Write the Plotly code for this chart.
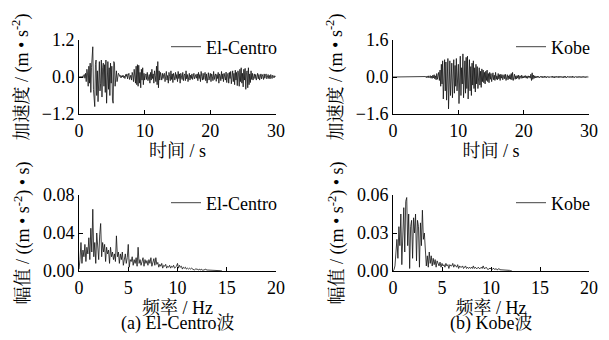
import plotly.graph_objects as go

# ---------------- data ----------------
dt_acc = 0.1   # s
df_spec = 0.1  # Hz

elcentro_acc = [
    0, 0, 0, 0, 0.01, 0.03, -0.02, 0.05, 0.08, -0.04,
    0.12, -0.15, 0.25, 0.1, -0.3, 0.35, -0.2, 0.45, -0.5, 0.3,
    0.6, 0.98, -0.4, -0.7, -0.96, 0.4, 0.55, -0.6, 0.2, -0.8,
    0.35, 0.5, -0.45, -0.2, 0.55, -0.65, 0.3, 0.45, -0.3, 0.4,
    -0.5, 0.55, -0.85, 0.2, 0.5, -0.4, 0.3, -0.6, 0.45, -0.2,
    0.35, -0.75, -0.85, 0.5, 0.45, -0.3, 0.1, 0.2, -0.15, 0.05,
    0.12, 0.08, 0.02, 0.05, -0.03, 0.04, 0.0, 0.06, -0.02, 0.03,
    -0.05, 0.08, 0.02, 0.1, -0.06, 0.05, 0.12, -0.08, 0.02, 0.06,
    -0.1, 0.15, 0.05, -0.15, 0.25, 0.1, -0.2, 0.35, -0.25, 0.4,
    -0.3, 0.38, -0.2, 0.15, -0.35, 0.25, -0.1, 0.3, -0.25, 0.12,
    -0.1, 0.05, 0.1, -0.08, 0.15, -0.12, 0.05, 0.08, -0.2, 0.15,
    -0.1, 0.25, -0.05, 0.1, -0.2, 0.2, 0.05, -0.15, 0.35, -0.25,
    0.5, -0.35, 0.2, -0.1, 0.15, 0.05, -0.1, 0.12, -0.05, 0.08,
    0.12, -0.15, 0.08, 0.18, -0.1, 0.05, -0.2, 0.15, 0.02, -0.12,
    0.2, -0.08, 0.1, -0.18, 0.12, 0.05, -0.1, 0.15, -0.05, 0.08,
    -0.15, 0.18, -0.05, 0.1, -0.2, 0.12, 0.03, -0.08, 0.15, -0.12,
    0.05, 0.1, -0.12, 0.2, -0.06, 0.08, -0.15, 0.04, 0.12, -0.1,
    0.06, -0.05, 0.1, -0.08, 0.04, 0.12, -0.06, 0.02, 0.08, -0.04,
    0.1, -0.12, 0.15, -0.05, 0.08, -0.15, 0.18, 0.02, -0.1, 0.12,
    -0.08, 0.05, 0.15, -0.12, 0.1, -0.2, 0.08, 0.14, -0.1, 0.05,
    0.12, -0.15, 0.1, 0.02, -0.12, 0.18, -0.08, 0.05, 0.1, -0.14,
    0.08, -0.05, 0.15, -0.2, 0.1, 0.05, -0.12, 0.18, -0.06, 0.1,
    -0.15, 0.12, 0.04, -0.1, 0.16, -0.18, 0.08, 0.12, -0.2, 0.15,
    -0.05, 0.18, -0.22, 0.1, 0.2, -0.15, 0.12, -0.25, 0.22, -0.1,
    0.15, -0.28, 0.2, 0.1, -0.3, 0.25, -0.15, 0.3, -0.2, 0.12,
    -0.32, 0.25, -0.1, 0.28, -0.4, 0.15, 0.2, -0.35, 0.3, -0.25,
    0.1, -0.18, 0.2, -0.08, 0.12, -0.1, 0.06, 0.1, -0.05, 0.08,
    -0.1, 0.05, 0.12, -0.06, 0.08, -0.1, 0.04, 0.1, -0.06, 0.08,
    0.02, -0.08, 0.1, -0.04, 0.06, 0.1, -0.06, 0.02, 0.08, -0.05,
    0.05, -0.06, 0.08, 0.02, -0.05, 0.06, 0.01, -0.03, 0.04, 0.0,
]

kobe_acc = [
    0, 0, 0, 0, 0, 0, 0, 0, 0, 0,
    0, 0, 0, 0, 0, 0, 0, 0, 0, 0,
    0, 0, 0, 0, 0, 0, 0, 0, 0, 0,
    0, 0, 0, 0, 0, 0, 0, 0, 0, 0,
    0, 0, 0, 0, 0, 0, 0, 0, 0, 0,
    0.02, -0.03, 0.04, -0.02, 0.05, -0.04, 0.03, 0.06, -0.05, 0.04,
    -0.06, 0.08, -0.04, 0.1, -0.08, 0.05, -0.12, 0.15, -0.1, 0.08,
    0.2, -0.15, 0.3, -0.4, 0.55, -0.3, 0.7, -0.95, 0.4, 0.75,
    -0.6, 0.65, -1.0, 0.3, 0.8, -1.38, -0.5, 0.7, -0.8, 0.45,
    0.6, -0.9, 0.35, 0.75, -0.7, 0.5, -0.4, 0.8, -0.6, 0.3,
    0.55, -1.15, 0.2, 0.9, -0.8, 0.4, -0.3, 1.0, -0.9, 0.6,
    0.7, -0.7, 0.85, -0.5, 0.9, -0.95, 0.3, 0.75, -0.6, 0.45,
    -0.8, 0.6, -0.35, 0.7, -0.5, 0.4, -0.65, 0.55, -0.3, 0.45,
    -0.5, 0.3, 0.4, -0.35, 0.25, -0.45, 0.35, -0.2, 0.3, -0.25,
    0.2, -0.3, 0.25, -0.15, 0.3, -0.2, 0.15, -0.25, 0.2, -0.1,
    0.15, -0.2, 0.1, 0.18, -0.12, 0.08, -0.15, 0.2, -0.1, 0.05,
    -0.12, 0.15, -0.08, 0.1, -0.15, 0.12, -0.05, 0.1, -0.12, 0.08,
    0.1, -0.08, 0.12, -0.15, 0.06, 0.1, -0.12, 0.05, -0.08, 0.1,
    -0.1, 0.15, -0.12, 0.2, -0.15, 0.08, 0.12, -0.1, 0.05, -0.08,
    0.06, -0.05, 0.08, -0.1, 0.05, 0.04, -0.06, 0.08, -0.05, 0.03,
    -0.04, 0.05, -0.03, 0.06, -0.05, 0.04, -0.06, 0.05, -0.02, 0.04,
    -0.05, 0.12, -0.15, 0.18, -0.1, 0.08, -0.06, 0.05, -0.04, 0.03,
    -0.03, 0.04, -0.02, 0.03, -0.04, 0.02, 0.03, -0.02, 0.04, -0.03,
    0.02, -0.03, 0.04, -0.02, 0.03, -0.04, 0.02, 0.03, -0.02, 0.02,
    -0.03, 0.02, 0.03, -0.02, 0.04, -0.03, 0.02, -0.04, 0.03, -0.02,
    0.03, -0.02, 0.02, -0.03, 0.04, -0.02, 0.03, -0.02, 0.02, -0.03,
    0.02, -0.03, 0.04, -0.02, 0.03, -0.04, 0.02, 0.03, -0.02, 0.02,
    -0.02, 0.03, -0.02, 0.02, -0.03, 0.04, -0.02, 0.02, -0.03, 0.02,
    0.03, -0.02, 0.02, -0.03, 0.02, -0.02, 0.03, -0.02, 0.02, -0.03,
    0.02, -0.02, 0.03, -0.02, 0.02, -0.03, 0.02, -0.02, 0.02, 0.0,
]

elcentro_spec = [
    0.002, 0.012, 0.03, 0.008, 0.022, 0.015, 0.028, 0.01, 0.025, 0.018,
    0.035, 0.012, 0.045, 0.02, 0.065, 0.015, 0.03, 0.008, 0.04, 0.022,
    0.012, 0.038, 0.05, 0.015, 0.03, 0.02, 0.028, 0.01, 0.025, 0.018,
    0.022, 0.008, 0.025, 0.015, 0.02, 0.012, 0.018, 0.01, 0.037, 0.015,
    0.02, 0.008, 0.018, 0.012, 0.02, 0.006, 0.015, 0.018, 0.008, 0.014,
    0.028, 0.004, 0.012, 0.01, 0.015, 0.006, 0.012, 0.008, 0.014, 0.005,
    0.025, 0.008, 0.012, 0.006, 0.01, 0.014, 0.005, 0.012, 0.008, 0.011,
    0.006, 0.012, 0.008, 0.014, 0.005, 0.01, 0.013, 0.006, 0.014, 0.007,
    0.009, 0.004, 0.007, 0.005, 0.008, 0.003, 0.006, 0.005, 0.007, 0.003,
    0.005, 0.004, 0.006, 0.003, 0.005, 0.004, 0.006, 0.003, 0.004, 0.005,
    0.008, 0.003, 0.006, 0.004, 0.005, 0.002, 0.004, 0.003, 0.004, 0.002,
    0.003, 0.002, 0.003, 0.002, 0.003, 0.002, 0.002, 0.001, 0.002, 0.002,
    0.002, 0.001, 0.002, 0.001, 0.002, 0.001, 0.001, 0.001, 0.002, 0.001,
    0.001, 0.001, 0.001, 0.0005, 0.001, 0.0005, 0.001, 0.0005, 0.0005, 0.0005,
    0.0005, 0.0003, 0.0004, 0.0003, 0.0003, 0.0002,
]

kobe_spec = [
    0.0, 0.001, 0.004, 0.012, 0.025, 0.01, 0.035, 0.02, 0.045, 0.005,
    0.03, 0.05, 0.015, 0.055, 0.058, 0.02, 0.045, 0.002, 0.035, 0.04,
    0.01, 0.042, 0.03, 0.045, 0.008, 0.04, 0.035, 0.003, 0.038, 0.02,
    0.048, 0.025, 0.03, 0.01, 0.004, 0.012, 0.003, 0.015, 0.006, 0.012,
    0.004, 0.01, 0.005, 0.009, 0.003, 0.008, 0.006, 0.004, 0.007, 0.003,
    0.006, 0.004, 0.005, 0.003, 0.006, 0.004, 0.005, 0.002, 0.005, 0.004,
    0.004, 0.006, 0.003, 0.005, 0.004, 0.003, 0.005, 0.002, 0.004, 0.003,
    0.003, 0.004, 0.002, 0.003, 0.004, 0.002, 0.003, 0.002, 0.003, 0.002,
    0.003, 0.002, 0.004, 0.002, 0.003, 0.002, 0.002, 0.003, 0.002, 0.002,
    0.003, 0.002, 0.004, 0.002, 0.002, 0.003, 0.002, 0.001, 0.002, 0.002,
    0.002, 0.001, 0.002, 0.002, 0.001, 0.002, 0.001, 0.001, 0.002, 0.001,
    0.001, 0.001, 0.001, 0.0005, 0.001, 0.0005, 0.0005, 0.0005, 0.0005, 0.0005,
    0.0003, 0.0003,
]

acc_x_ticks = [0, 10, 20, 30]
spec_x_ticks = [0, 5, 10, 15, 20]
elcentro_acc_yticks = [-1.2, 0.0, 1.2]
kobe_acc_yticks = [-1.6, 0.0, 1.6]
elcentro_spec_yticks = [0.00, 0.04, 0.08]
kobe_spec_yticks = [0.00, 0.03, 0.06]

# ---------------- figure ----------------
# The page body has an 8 px default margin, so the figure is drawn 8 px in;
# size and positions are compensated for that offset.
OFF = 8
W, H = 609 - OFF, 340 - OFF
FONT = "Liberation Serif, 'Noto Serif CJK SC', 'Noto Sans CJK SC', serif"
FS = 18
LINE = dict(color="#111111", width=0.8)

t_el = [i * dt_acc for i in range(len(elcentro_acc))]
t_kb = [i * dt_acc for i in range(len(kobe_acc))]
f_el = [i * df_spec for i in range(len(elcentro_spec))]
f_kb = [i * df_spec for i in range(len(kobe_spec))]

fig = go.Figure()
fig.add_trace(go.Scatter(x=t_el, y=elcentro_acc, mode="lines", line=LINE,
                         name="El-Centro", xaxis="x", yaxis="y", legend="legend"))
fig.add_trace(go.Scatter(x=t_kb, y=kobe_acc, mode="lines", line=LINE,
                         name="Kobe", xaxis="x2", yaxis="y2", legend="legend2"))
fig.add_trace(go.Scatter(x=f_el, y=elcentro_spec, mode="lines", line=LINE,
                         name="El-Centro", xaxis="x3", yaxis="y3", legend="legend3"))
fig.add_trace(go.Scatter(x=f_kb, y=kobe_spec, mode="lines", line=LINE,
                         name="Kobe", xaxis="x4", yaxis="y4", legend="legend4"))

def px_x(p):
    return (p - OFF) / W

def px_y(p):
    return 1 - (p - OFF) / H

left_dom = [px_x(79), px_x(276)]
right_dom = [px_x(393), px_x(589)]
top_dom = [px_y(114), px_y(40)]
bot_dom = [px_y(271), px_y(195)]

def xax(dom, anchor, rng, ticks, title):
    return dict(domain=dom, anchor=anchor, range=rng, tickvals=ticks,
                showline=True, linecolor="black", linewidth=1,
                ticks="inside", ticklen=4, tickcolor="black", tickwidth=1,
                showgrid=False, zeroline=False, automargin=False,
                tickfont=dict(size=FS, color="black"),
                title=dict(text=title, font=dict(size=FS, color="black"), standoff=2))

def yax(dom, anchor, rng, ticks, fmt, title):
    return dict(domain=dom, anchor=anchor, range=rng, tickvals=ticks, tickformat=fmt,
                showline=True, linecolor="black", linewidth=1,
                ticks="inside", ticklen=4, tickcolor="black", tickwidth=1,
                showgrid=False, zeroline=False, automargin=False,
                tickfont=dict(size=FS, color="black"),
                title=dict(text=title, font=dict(size=FS, color="black"), standoff=8))

acc_title = "加速度 / (m • s<sup>-2</sup>)"
spec_title = "幅值 / ((m • s<sup>-2</sup>) • s)"

fig.update_layout(
    width=W, height=H,
    margin=dict(l=0, r=0, t=0, b=0, autoexpand=False),
    paper_bgcolor="white", plot_bgcolor="white",
    font=dict(family=FONT, size=FS, color="black"),
    xaxis=xax(left_dom, "y", [0, 30], acc_x_ticks, "时间 / s"),
    yaxis=yax(top_dom, "x", [-1.2, 1.2], elcentro_acc_yticks, ".1f", acc_title),
    xaxis2=xax(right_dom, "y2", [0, 30], acc_x_ticks, "时间 / s"),
    yaxis2=yax(top_dom, "x2", [-1.6, 1.6], kobe_acc_yticks, ".1f", acc_title),
    xaxis3=xax(left_dom, "y3", [0, 20], spec_x_ticks, "频率 / Hz"),
    yaxis3=yax(bot_dom, "x3", [0, 0.08], elcentro_spec_yticks, ".2f", spec_title),
    xaxis4=xax(right_dom, "y4", [0, 20], spec_x_ticks, "频率 / Hz"),
    yaxis4=yax(bot_dom, "x4", [0, 0.06], kobe_spec_yticks, ".2f", spec_title),
    showlegend=True,
)

def leg(xr, yc):
    return dict(x=px_x(xr), y=px_y(yc), xanchor="right", yanchor="middle",
                bgcolor="rgba(0,0,0,0)", borderwidth=0,
                font=dict(size=FS, color="black"), itemwidth=30,
                tracegroupgap=0)

fig.update_layout(
    legend=leg(282, 47),
    legend2=leg(595, 47),
    legend3=leg(282, 203),
    legend4=leg(595, 203),
)

fig.add_annotation(text="(a) El-Centro波", x=(left_dom[0] + left_dom[1]) / 2, y=px_y(323),
                   xref="paper", yref="paper", showarrow=False,
                   font=dict(size=FS, color="black"), xanchor="center", yanchor="middle")
fig.add_annotation(text="(b) Kobe波", x=(right_dom[0] + right_dom[1]) / 2, y=px_y(323),
                   xref="paper", yref="paper", showarrow=False,
                   font=dict(size=FS, color="black"), xanchor="center", yanchor="middle")

fig.write_html("out.html")
